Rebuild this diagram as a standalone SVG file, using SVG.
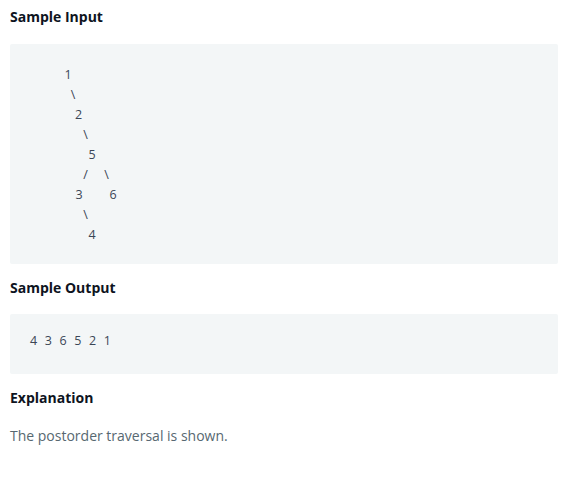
<svg xmlns="http://www.w3.org/2000/svg" width="570" height="481" viewBox="0 0 570 481">
<style>
.h{font-family:"Open Sans","Liberation Sans",sans-serif;font-weight:700;font-size:14px;fill:#0e141e}
.box{fill:#f3f6f7}
.c{font-family:"Open Sans","Liberation Sans",sans-serif;font-size:12.5px;fill:#3b4656;text-anchor:middle}
.o{font-family:"Open Sans","Liberation Sans",sans-serif;font-size:12.5px;fill:#3b4656}
.p{font-family:"Open Sans","Liberation Sans",sans-serif;font-size:14px;fill:#576871}
</style>
<rect width="570" height="481" fill="#ffffff"/>
<text class="h" x="10" y="22">Sample Input</text>
<rect class="box" x="10" y="44" width="548" height="220" rx="2"/>
<g id="tree">
<text class="c" x="68" y="79">1</text>
<text class="c" x="73" y="99">\</text>
<text class="c" x="78.5" y="119">2</text>
<text class="c" x="85.5" y="139">\</text>
<text class="c" x="92" y="159">5</text>
<text class="c" x="85.5" y="179">/</text>
<text class="c" x="106.5" y="179">\</text>
<text class="c" x="79" y="199">3</text>
<text class="c" x="113" y="199">6</text>
<text class="c" x="85.5" y="219">\</text>
<text class="c" x="92" y="239">4</text>
</g>
<text class="h" x="10" y="293">Sample Output</text>
<rect class="box" x="10" y="314" width="548" height="60" rx="2"/>
<text class="o" x="30" y="345" textLength="81">4 3 6 5 2 1</text>
<text class="h" x="10" y="403">Explanation</text>
<text class="p" x="10" y="441">The postorder traversal is shown.</text>
</svg>
